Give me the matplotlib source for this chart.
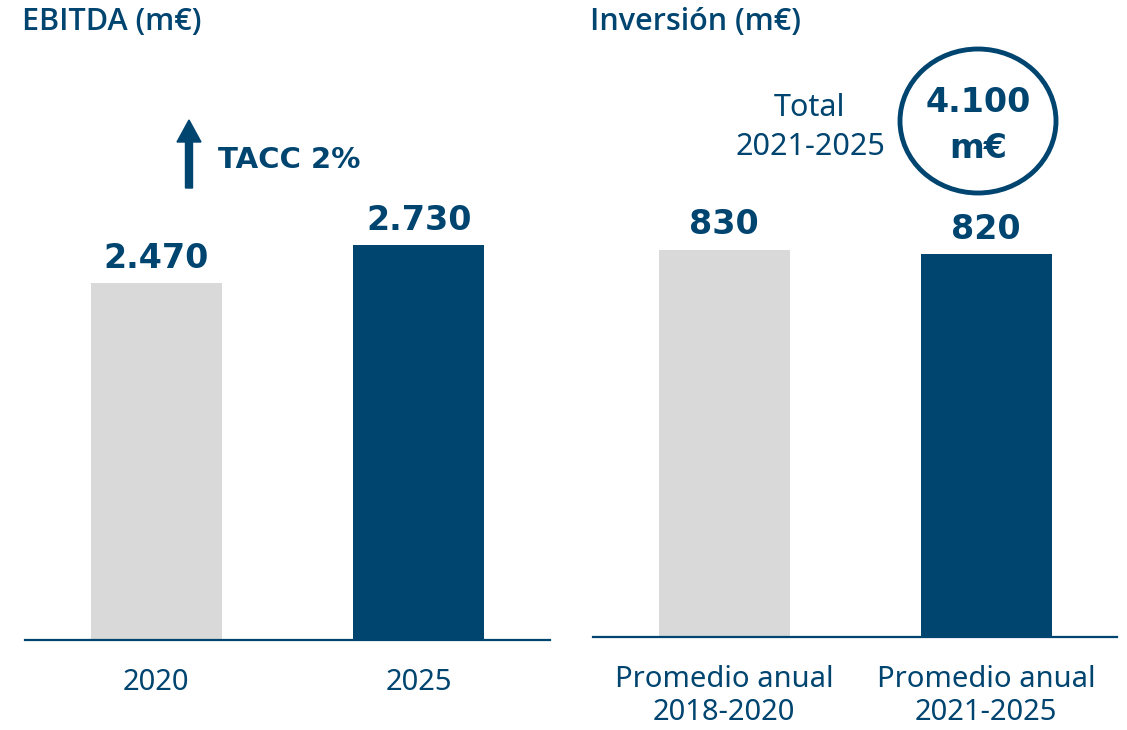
import matplotlib.pyplot as plt
from matplotlib.patches import Ellipse, FancyArrow

# data
ebitda_years = ["2020", "2025"]
ebitda_values = [2470, 2730]
ebitda_labels = ["2.470", "2.730"]

inv_periods = ["Promedio anual\n2018-2020", "Promedio anual\n2021-2025"]
inv_values = [830, 820]
inv_labels = ["830", "820"]

dark = "#004470"
grey = "#d9d9d9"
colors = [grey, dark]

W, H = 1127, 730
fig = plt.figure(figsize=(W / 100, H / 100), dpi=100)

def px_axes(x0, x1, y_top, y_base):
    # pixel box -> figure fraction
    return fig.add_axes([x0 / W, (H - y_base) / H, (x1 - x0) / W, (y_base - y_top) / H])

def style(ax, labels):
    for s in ["top", "right", "left"]:
        ax.spines[s].set_visible(False)
    ax.spines["bottom"].set_color(dark)
    ax.spines["bottom"].set_linewidth(1.6)
    ax.set_yticks([])
    ax.set_xlim(-0.5, 1.5)
    ax.set_xticks(range(len(labels)))
    ax.set_xticklabels(labels, fontsize=21, color=dark, family="Noto Sans",
                       linespacing=1.2)
    ax.tick_params(axis="x", length=0, pad=20)

# EBITDA
ax1 = px_axes(25, 550, 60, 640)
bars1 = ax1.bar(range(2), ebitda_values, width=0.5, color=colors)
ax1.set_ylim(0, 580 * 2470 / 357)
style(ax1, ebitda_years)
ax1.bar_label(bars1, labels=ebitda_labels, padding=6, fontsize=24,
              fontweight="bold", color=dark, family="DejaVu Sans")

# Inversion
ax2 = px_axes(593, 1117, 60, 637)
bars2 = ax2.bar(range(2), inv_values, width=0.5, color=colors)
ax2.set_ylim(0, 577 / 0.4668)
style(ax2, inv_periods)
ax2.bar_label(bars2, labels=inv_labels, padding=6, fontsize=24,
              fontweight="bold", color=dark, family="DejaVu Sans")

# titles
fig.text(22 / W, 1 - 22 / H, "EBITDA (m€)", fontsize=22, color=dark,
         family="Open Sans", fontweight="semibold", va="center", ha="left")
fig.text(590 / W, 1 - 22 / H, "Inversión (m€)", fontsize=22, color=dark,
         family="Open Sans", fontweight="semibold", va="center", ha="left")

# growth arrow
arr = FancyArrow(189 / W, 1 - 188 / H, 0, 68 / H, width=7 / W,
                 head_width=24 / W, head_length=22 / H,
                 length_includes_head=True, color=dark, transform=fig.transFigure)
fig.add_artist(arr)
fig.text(218 / W, 1 - 160 / H, "TACC 2%", fontsize=21, fontweight="bold",
         color=dark, family="DejaVu Sans", va="center", ha="left")

# total investment bubble
circ = Ellipse((978 / W, 1 - 121 / H), 156 / W, 144 / H, fill=False,
               edgecolor=dark, linewidth=3.5, transform=fig.transFigure)
fig.add_artist(circ)
fig.text(978 / W, 1 - 102 / H, "4.100", fontsize=24, fontweight="bold",
         color=dark, family="DejaVu Sans", va="center", ha="center")
fig.text(978 / W, 1 - 148 / H, "m€", fontsize=24, fontweight="bold",
         color=dark, family="DejaVu Sans", va="center", ha="center")
fig.text(810 / W, 1 - 108 / H, "Total", fontsize=22, color=dark,
         family="Noto Sans", va="center", ha="center")
fig.text(810 / W, 1 - 147 / H, "2021-2025", fontsize=22, color=dark,
         family="Noto Sans", va="center", ha="center")

fig.savefig("out.png", dpi=100)
